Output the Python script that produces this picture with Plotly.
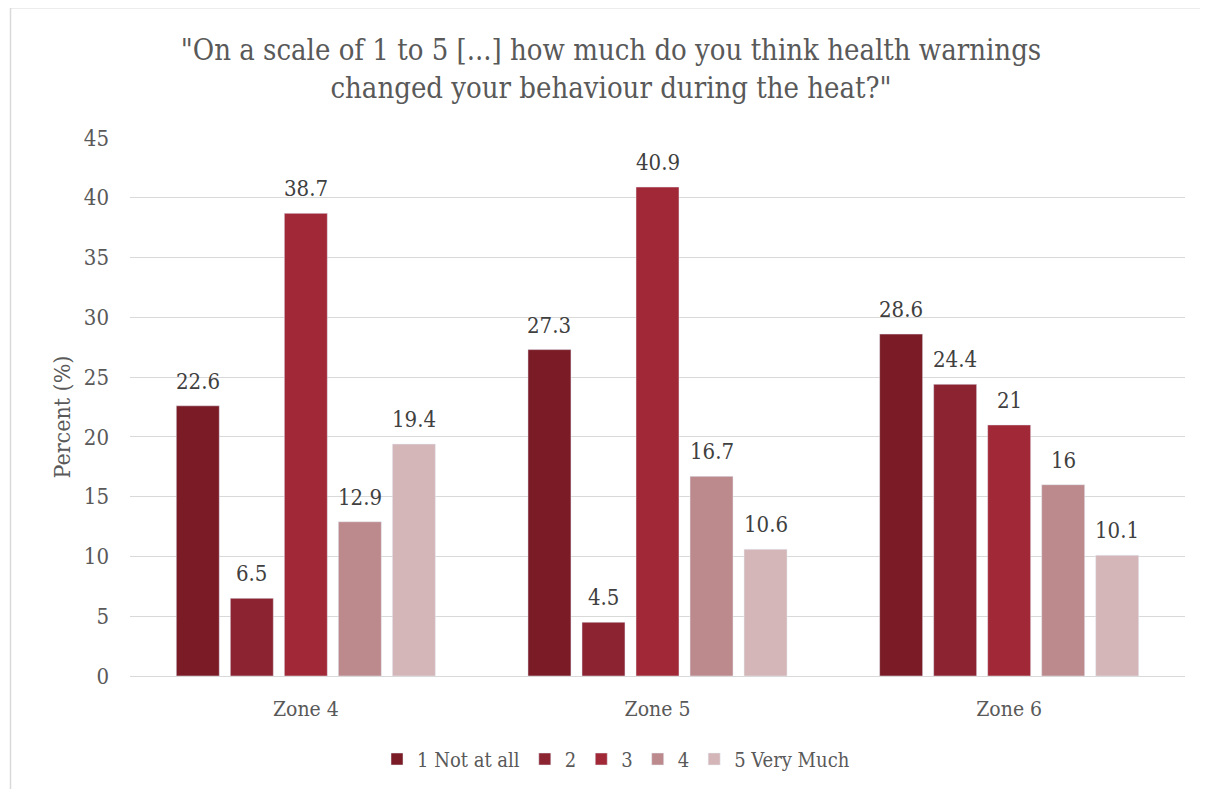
import plotly.graph_objects as go

zones = ["Zone 4", "Zone 5", "Zone 6"]
series_names = ["1 Not at all", "2", "3", "4", "5 Very Much"]
values = [
    [22.6, 27.3, 28.6],
    [6.5, 4.5, 24.4],
    [38.7, 40.9, 21.0],
    [12.9, 16.7, 16.0],
    [19.4, 10.6, 10.1],
]
labels = [
    ["22.6", "27.3", "28.6"],
    ["6.5", "4.5", "24.4"],
    ["38.7", "40.9", "21"],
    ["12.9", "16.7", "16"],
    ["19.4", "10.6", "10.1"],
]
colors = ["#7A1B26", "#8B2330", "#A12837", "#BC898C", "#D4B6B8"]
y_ticks = [0, 5, 10, 15, 20, 25, 30, 35, 40, 45]

FONT = "DejaVu Serif Condensed, DejaVu Serif"
OFF = 8  # page body offset
W, H = 1208 - OFF, 789 - OFF
L = 130 - OFF
R = W - (1185 - OFF)
T = 138 - OFF
B = H - (677 - OFF)
pw, ph = W - L - R, H - T - B
BARGAP = 0.232
GROUPGAP = 0.204


def px_x(x):
    return (x - OFF - L) / pw


def px_y(y):
    return ((H - B) - (y - OFF)) / ph


fig = go.Figure()
for name, vals, col in zip(series_names, values, colors):
    fig.add_trace(go.Bar(x=zones, y=vals, name=name, marker_color=col))

n = len(series_names)
slot = (1 - BARGAP) / n
annotations = []
for i, (vals, labs) in enumerate(zip(values, labels)):
    for j, (v, t) in enumerate(zip(vals, labs)):
        annotations.append(dict(
            x=j + (i - (n - 1) / 2) * slot, y=v, xref="x", yref="y",
            text=t, showarrow=False, yanchor="bottom", yshift=10,
            font=dict(size=22, color="#404040", family=FONT),
        ))
annotations.append(dict(
    text="Percent (%)", x=px_x(62), y=px_y(418), xref="paper", yref="paper",
    textangle=-90, showarrow=False, xanchor="center", yanchor="middle",
    font=dict(size=23, color="#595959", family=FONT),
))

fig.update_layout(
    width=W, height=H,
    margin=dict(l=L, r=R, t=T, b=B),
    paper_bgcolor="white", plot_bgcolor="white",
    barmode="group", bargap=BARGAP, bargroupgap=GROUPGAP,
    font=dict(family=FONT, color="#595959"),
    title=dict(
        text='"On a scale of 1 to 5 [...] how much do you think health warnings<br>changed your behaviour during the heat?"',
        x=(611 - OFF) / W, xanchor="center", y=1 - (60 - OFF) / H, yanchor="middle",
        font=dict(size=29, color="#595959", family=FONT),
    ),
    yaxis=dict(
        range=[0, 45], tickvals=y_ticks, showgrid=True, gridcolor="#D9D9D9",
        gridwidth=1.3, zeroline=False, showline=False,
        tickfont=dict(size=22, color="#595959"), ticks="", ticklabelstandoff=20,
    ),
    xaxis=dict(
        showline=True, linecolor="#D9D9D9", linewidth=1.3, ticks="",
        tickfont=dict(size=21, color="#595959"), ticklabelstandoff=14,
    ),
    legend=dict(
        orientation="h", x=px_x(616), xanchor="center",
        y=px_y(759), yanchor="middle",
        font=dict(size=20, color="#595959"), itemwidth=30,
        traceorder="normal",
    ),
    annotations=annotations,
    shapes=[dict(
        type="rect", xref="paper", yref="paper",
        x0=px_x(10.5), x1=px_x(1215),
        y0=px_y(800), y1=px_y(7.5),
        line=dict(color="#D9D9D9", width=1.5), fillcolor="rgba(0,0,0,0)",
        layer="below",
    )],
)

fig.write_html("out.html")
